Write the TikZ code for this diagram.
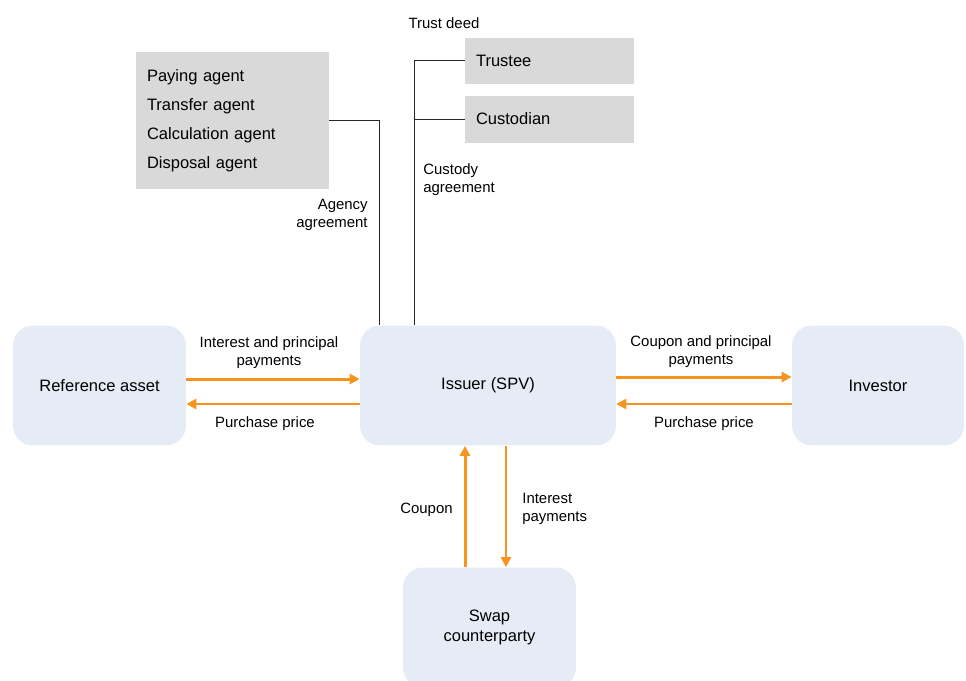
\documentclass[tikz,border=0pt]{standalone}
\usepackage{fontspec}
\setmainfont{Liberation Sans}
\usetikzlibrary{arrows.meta,positioning}
\definecolor{boxblue}{HTML}{E5ECF5}
\definecolor{boxgray}{HTML}{D9D9D9}
\definecolor{flowor}{HTML}{F7941D}

\begin{document}
\begin{tikzpicture}[x=0.02cm,y=-0.02cm,>={Triangle[length=2mm,width=2mm]},
  party/.style={fill=boxblue,rounded corners=0.4cm,minimum height=2.4cm,align=center,
    font=\fontsize{9.4}{11.4}\selectfont},
  gbox/.style={fill=boxgray,align=left,inner xsep=0.22cm,anchor=center,
    font=\fontsize{9.4}{16.5}\selectfont},
  lab/.style={font=\fontsize{8.5}{10.2}\selectfont,inner sep=0pt},
  flow/.style={->,draw=flowor,fill=flowor,line width=1.7pt},
  link/.style={draw=black!85,line width=0.5pt}]
  \useasboundingbox (0,0) rectangle (966,680);

  % parties
  \node[party,minimum width=3.46cm] (ref) at (99.5,385.5) {Reference asset};
  \node[party,minimum width=5.12cm] (spv) at (488,385.5) {Issuer (SPV)};
  \node[party,minimum width=3.44cm] (inv) at (878,385.5) {Investor};
  \node[party,minimum width=3.46cm] (swap) at (489.5,627.5) {Swap\\counterparty};

  % agents and trustees
  \node[gbox,text width=3.42cm,minimum height=2.76cm] (agents) at (232.5,120.5)
    {Paying agent\\Transfer agent\\Calculation agent\\Disposal agent};
  \node[gbox,text width=2.94cm,minimum height=0.92cm] (trustee) at (549.5,60.5) {Trustee};
  \node[gbox,text width=2.94cm,minimum height=0.94cm] (cust) at (549.5,119) {Custodian};

  \coordinate (ag) at ([xshift=-2.18cm]spv.north);
  \coordinate (tj) at ([xshift=-1.48cm]spv.north);
  \draw[link] (agents.east) -| (ag);
  \draw[link] (trustee.west) -| (tj);
  \draw[link] (cust.west) -- (cust.west -| tj);

  \node[lab] (tdeed) at (444,23.5) {Trust deed};
  \node[lab,anchor=east,align=right] (agl) at (368,215) {Agency\\agreement};
  \node[lab,anchor=west,align=left] (cul) at (423,179.5) {Custody\\agreement};

  % payment flows
  \draw[flow] ([yshift=0.13cm]ref.east) -- ([yshift=0.13cm]spv.west);
  \draw[flow] ([yshift=-0.37cm]spv.west) -- ([yshift=-0.37cm]ref.east);
  \draw[flow] ([yshift=0.17cm]spv.east) -- ([yshift=0.17cm]inv.west);
  \draw[flow] ([yshift=-0.37cm]inv.west) -- ([yshift=-0.37cm]spv.east);
  \draw[flow] ([xshift=-0.46cm]spv.south |- swap.north) -- ([xshift=-0.46cm]spv.south);
  \draw[flow] ([xshift=0.36cm]spv.south) -- ([xshift=0.36cm]spv.south |- swap.north);

  \node[lab,align=center] (l1) at (269,353) {Interest and principal\\payments};
  \node[lab] (l2) at (265,423.5) {Purchase price};
  \node[lab,align=center] (l3) at (701,351.5) {Coupon and principal\\payments};
  \node[lab] (l4) at (704,423.5) {Purchase price};
  \node[lab,anchor=east] (l5) at (453,509.5) {Coupon};
  \node[lab,anchor=west,align=left] (l6) at (522,508.5) {Interest\\payments};
\end{tikzpicture}
\end{document}
